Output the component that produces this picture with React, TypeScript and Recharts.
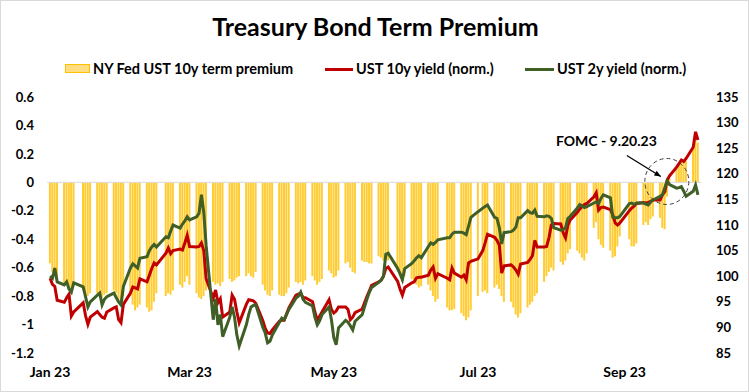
import React from "react";
import { ComposedChart, Bar, Line, XAxis, YAxis, ReferenceLine, ReferenceDot } from "recharts";

// trading days from START to END, weekends and US bond-market holidays skipped
const START = "2023-01-03";
const END = "2023-10-04";
const HOLIDAYS = ["2023-01-16", "2023-02-20", "2023-05-29", "2023-06-19", "2023-07-04", "2023-09-04"];

const TICK_DATES = ["2023-01-03", "2023-03-03", "2023-05-03", "2023-07-03", "2023-09-03"];
const TICK_LABELS = ["Jan 23", "Mar 23", "May 23", "Jul 23", "Sep 23"];

const LEFT_TICKS = [-1.2, -1, -0.8, -0.6, -0.4, -0.2, 0, 0.2, 0.4, 0.6];
const RIGHT_TICKS = [85, 90, 95, 100, 105, 110, 115, 120, 125, 130, 135];

// NY Fed ACM 10y term premium (%), one row per week
const termPremium = [
  -0.57, -0.63, -0.62, -0.7,
  -0.72, -0.7, -0.74, -0.76, -0.73,
  -0.76, -0.82, -0.8, -0.78,
  -0.78, -0.8, -0.81, -0.79, -0.78,
  -0.76, -0.78, -0.82, -0.85, -0.8,
  -0.8, -0.86, -0.9, -0.88, -0.86,
  -0.88, -0.91, -0.9, -0.84, -0.78,
  -0.8, -0.78, -0.79, -0.76,
  -0.72, -0.74, -0.7, -0.66, -0.72,
  -0.78, -0.81, -0.82, -0.8, -0.76,
  -0.7, -0.72, -0.71, -0.73, -0.7,
  -0.68, -0.7, -0.69, -0.67, -0.66,
  -0.66, -0.64, -0.66, -0.67, -0.63,
  -0.72, -0.76, -0.79, -0.8, -0.76,
  -0.79, -0.8, -0.8, -0.78, -0.74,
  -0.7, -0.71, -0.7, -0.72, -0.69,
  -0.66, -0.69, -0.72, -0.7, -0.68,
  -0.62, -0.64, -0.67, -0.66, -0.62,
  -0.57, -0.56, -0.6, -0.63, -0.64,
  -0.55, -0.56, -0.56, -0.57, -0.57,
  -0.52, -0.53, -0.55, -0.54, -0.55,
  -0.62, -0.66, -0.7, -0.66,
  -0.68, -0.7, -0.72, -0.74, -0.73,
  -0.72, -0.76, -0.8, -0.84, -0.82,
  -0.88, -0.9, -0.9, -0.89,
  -0.92, -0.94, -0.97, -0.95, -0.9,
  -0.8, -0.77, -0.76, -0.78,
  -0.74, -0.72, -0.75, -0.8, -0.84,
  -0.84, -0.88, -0.93, -0.95, -0.92,
  -0.88, -0.86, -0.84, -0.8, -0.78,
  -0.7, -0.66, -0.63, -0.6, -0.62,
  -0.56, -0.58, -0.55, -0.5, -0.47,
  -0.48, -0.5, -0.53, -0.55, -0.5,
  -0.32, -0.28, -0.4, -0.44, -0.46,
  -0.48, -0.53, -0.52, -0.45, -0.38,
  -0.4, -0.45, -0.45, -0.43,
  -0.3, -0.28, -0.3, -0.26, -0.24,
  -0.25, -0.32, -0.33, -0.1, 0.03,
  0.1, 0.12, 0.16, 0.14, 0.15,
  0.25, 0.34, 0.28,
];

// UST 10y yield, normalised
const ust10y = [
  99.6, 98.4, 98.0, 95.3,
  94.9, 95.8, 96.5, 92.2, 93.0,
  94.8, 92.3, 90.6, 92.0,
  93.1, 92.5, 92.0, 91.8, 93.0,
  93.8, 94.0, 91.5, 90.9, 94.5,
  96.7, 97.9, 97.7, 97.5, 99.5,
  98.9, 100.2, 101.5, 102.6, 102.2,
  104.5, 105.5, 104.4, 105.0,
  105.3, 105.1, 106.5, 108.0, 105.8,
  105.7, 105.8, 106.5, 105.0, 99.5,
  95.7, 97.3, 94.8, 95.6, 92.0,
  93.0, 96.3, 95.5, 93.0, 90.9,
  94.5, 95.4, 95.3, 95.2, 94.7,
  91.3, 89.8, 88.9, 88.8, 89.5,
  91.2, 91.4, 91.4, 92.6, 93.8,
  96.3, 96.5, 96.7, 95.8, 95.8,
  95.0, 93.0, 91.4, 92.2, 93.0,
  95.4, 93.5, 92.8, 93.2, 94.0,
  94.0, 93.5, 91.5, 92.0, 92.9,
  93.6, 94.8, 96.0, 97.1, 98.2,
  98.9, 99.2, 100.0, 101.5, 101.8,
  99.0, 97.5, 96.3, 97.8,
  98.7, 98.9, 99.7, 99.8, 99.8,
  100.2, 101.2, 101.8, 99.6, 100.5,
  99.6, 99.3, 101.6, 100.6,
  99.8, 100.2, 99.3, 102.6, 102.9,
  103.4, 105.0, 106.5, 108.2,
  107.6, 107.0, 106.1, 100.6, 102.0,
  102.2, 101.8, 101.2, 100.4, 102.4,
  102.7, 103.3, 104.0, 107.0, 105.7,
  105.7, 105.8, 107.5, 110.0, 110.3,
  110.2, 108.5, 107.5, 110.0, 111.0,
  112.5, 113.1, 113.6, 114.0, 114.2,
  115.5, 116.3, 112.9, 113.4, 113.5,
  113.0, 112.0, 110.4, 110.0, 110.4,
  112.8, 113.3, 113.7, 114.2,
  114.4, 114.3, 114.4, 114.6, 114.9,
  114.9, 115.9, 116.5, 118.8, 119.6,
  121.3, 122.0, 122.7, 122.4, 123.0,
  125.2, 128.2, 126.6,
];

// UST 2y yield, normalised
const ust2y = [
  100.0, 99.6, 101.6, 98.9,
  98.3, 98.9, 97.5, 96.9, 98.7,
  97.9, 96.0, 94.0, 95.0,
  96.3, 96.7, 94.4, 95.5, 96.0,
  96.7, 95.8, 95.0, 94.4, 98.0,
  101.6, 102.4, 102.0, 101.6, 103.5,
  103.8, 105.0, 105.7, 106.2, 105.7,
  107.7, 107.5, 108.8, 110.0,
  109.4, 110.2, 110.8, 111.6, 111.0,
  111.6, 112.3, 115.9, 112.5, 106.0,
  91.5, 95.5, 90.5, 92.5, 88.2,
  92.0, 94.0, 92.0, 88.5, 86.4,
  90.5, 92.5, 94.0, 94.3, 94.4,
  90.0, 88.9, 87.0, 87.3, 88.5,
  91.0, 91.8, 91.5, 92.5, 93.5,
  95.7, 96.1, 96.9, 95.5, 94.9,
  94.2, 92.0, 90.5, 91.3, 92.5,
  94.0, 91.5, 88.0, 86.6, 89.9,
  91.4, 91.0, 90.3, 89.5, 91.2,
  92.5, 94.0, 95.5, 96.8, 97.8,
  98.8, 99.2, 100.0, 104.3, 104.5,
  101.5, 100.5, 99.3, 101.5,
  102.5, 103.0, 103.6, 104.0, 103.6,
  105.8, 106.5, 106.2, 106.6, 107.1,
  107.5, 107.5, 108.2, 108.6,
  108.6, 108.4, 108.1, 109.8, 111.5,
  112.6, 113.3, 113.6, 113.9,
  111.5, 111.3, 109.5, 106.3, 108.5,
  108.7, 109.0, 109.6, 111.4, 111.4,
  112.8, 112.4, 112.3, 112.9, 111.7,
  111.6, 111.8, 111.7, 111.3, 109.5,
  109.0, 109.1, 109.5, 111.3, 111.7,
  113.3, 114.0, 113.7, 113.4, 113.6,
  114.3, 114.5, 114.2, 115.2, 115.9,
  115.3, 111.5, 111.4, 111.4, 111.7,
  114.2, 114.3, 114.0, 114.3,
  114.3, 114.1, 113.9, 114.5, 114.9,
  115.6, 115.9, 117.3, 118.6, 117.9,
  117.2, 117.3, 117.5, 116.6, 115.6,
  116.6, 117.8, 115.9,
];

const FOMC_DATE = "2023-09-20";
const FOMC_LEVEL = 118.5;

const DAY_MS = 86400000;
const YEAR_START = Date.UTC(2023, 0, 1);
const toMs = (iso: string) => Date.parse(iso + "T00:00:00Z");
const dayOf = (iso: string) => (toMs(iso) - YEAR_START) / DAY_MS;

function tradingDays(): string[] {
  const out: string[] = [];
  for (let t = toMs(START); t <= toMs(END); t += DAY_MS) {
    const d = new Date(t);
    const wd = d.getUTCDay();
    const iso = d.toISOString().slice(0, 10);
    if (wd === 0 || wd === 6 || HOLIDAYS.includes(iso)) continue;
    out.push(iso);
  }
  return out;
}

const dates = tradingDays();
const data = dates.map((date, i) => ({
  day: dayOf(date),
  tp: termPremium[i],
  y10: ust10y[i],
  y2: ust2y[i],
}));

const tickDays = TICK_DATES.map(dayOf);

const RED = "#C00000";
const GREEN = "#3F5F26";
const GOLD = "#FFCC33";

const FomcMark = (props: any) => {
  const { cx, cy } = props;
  const x0 = cx + 2;
  // arrow from label down to the circle
  const ax1 = x0 - 40, ay1 = cy - 26, ax2 = x0 - 6, ay2 = cy - 5;
  const ang = Math.atan2(ay2 - ay1, ax2 - ax1);
  const h = 7;
  const p1 = `${ax2},${ay2}`;
  const p2 = `${ax2 - h * Math.cos(ang - 0.4)},${ay2 - h * Math.sin(ang - 0.4)}`;
  const p3 = `${ax2 - h * Math.cos(ang + 0.4)},${ay2 - h * Math.sin(ang + 0.4)}`;
  return (
    <g>
      <ellipse cx={x0} cy={cy} rx={22} ry={23} fill="none" stroke="#404040" strokeWidth={1} strokeDasharray="4 3" />
      <line x1={ax1} y1={ay1} x2={ax2} y2={ay2} stroke="#000" strokeWidth={1.3} />
      <polygon points={`${p1} ${p2} ${p3}`} fill="#000" />
      <text x={x0 - 10} y={cy - 35} textAnchor="end" fontSize={14} fontWeight={700} fill="#000">
        FOMC - 9.20.23
      </text>
    </g>
  );
};

const tickStyle = { fontSize: 13, fontWeight: 700, fill: "#000" };

export default function App() {
  return (
    <div
      style={{
        position: "absolute",
        left: 0,
        top: 0,
        width: 749,
        height: 392,
        background: "#fff",
        border: "1px solid #D9D9D9",
        boxSizing: "border-box",
        fontFamily: "Lato, 'Noto Sans', sans-serif",
        color: "#000",
      }}
    >
      <div style={{ position: "absolute", left: -1, top: -1 }}>
        <ComposedChart width={749} height={392} data={data} margin={{ top: 97, right: 0, bottom: 9, left: 0 }}>
          <XAxis
            dataKey="day"
            type="number"
            domain={[0.7, 277.3]}
            ticks={tickDays}
            interval={0}
            tickFormatter={(v) => TICK_LABELS[tickDays.indexOf(v)] ?? ""}
            axisLine={false}
            tickLine={false}
            tickMargin={8}
            height={30}
            tick={{ ...tickStyle, fontSize: 14 }}
            allowDataOverflow
          />
          <YAxis
            yAxisId="left"
            orientation="left"
            domain={[-1.2, 0.6]}
            ticks={LEFT_TICKS}
            interval={0}
            width={47}
            axisLine={false}
            tickLine={false}
            tickMargin={7}
            tick={tickStyle}
          />
          <YAxis
            yAxisId="right"
            orientation="right"
            domain={[85, 135]}
            ticks={RIGHT_TICKS}
            interval={0}
            width={48}
            axisLine={false}
            tickLine={false}
            tickMargin={9}
            tick={tickStyle}
          />
          <ReferenceLine yAxisId="left" y={0} stroke="#D9D9D9" strokeWidth={1} />
          <Bar yAxisId="left" dataKey="tp" fill={GOLD} barSize={2} isAnimationActive={false} />
          <Line
            yAxisId="right"
            dataKey="y10"
            type="linear"
            stroke={RED}
            strokeWidth={3}
            dot={false}
            isAnimationActive={false}
          />
          <Line
            yAxisId="right"
            dataKey="y2"
            type="linear"
            stroke={GREEN}
            strokeWidth={3}
            dot={false}
            isAnimationActive={false}
          />
          <ReferenceDot
            yAxisId="right"
            x={dayOf(FOMC_DATE)}
            y={FOMC_LEVEL}
            r={22}
            shape={FomcMark}
          />
        </ComposedChart>
      </div>

      <div
        style={{
          position: "absolute",
          left: 0,
          top: 10,
          width: 749,
          textAlign: "center",
          fontSize: 25,
          lineHeight: "30px",
          fontWeight: 700,
        }}
      >
        Treasury Bond Term Premium
      </div>

      <div style={{ position: "absolute", top: 58, left: 0, width: 749, height: 20, fontSize: 14.5, fontWeight: 700, lineHeight: "20px" }}>
        <div style={{ position: "absolute", left: 64, top: 5, width: 25, height: 9, background: "#FFDD80", border: "1px solid #FFC000", boxSizing: "border-box" }} />
        <div style={{ position: "absolute", left: 92, top: 0, whiteSpace: "nowrap" }}>NY Fed UST 10y term premium</div>
        <div style={{ position: "absolute", left: 324, top: 9, width: 28, height: 3, background: RED }} />
        <div style={{ position: "absolute", left: 355, top: 0, whiteSpace: "nowrap" }}>UST 10y yield (norm.)</div>
        <div style={{ position: "absolute", left: 524, top: 9, width: 29, height: 3, background: GREEN }} />
        <div style={{ position: "absolute", left: 556, top: 0, whiteSpace: "nowrap" }}>UST 2y yield (norm.)</div>
      </div>
    </div>
  );
}
